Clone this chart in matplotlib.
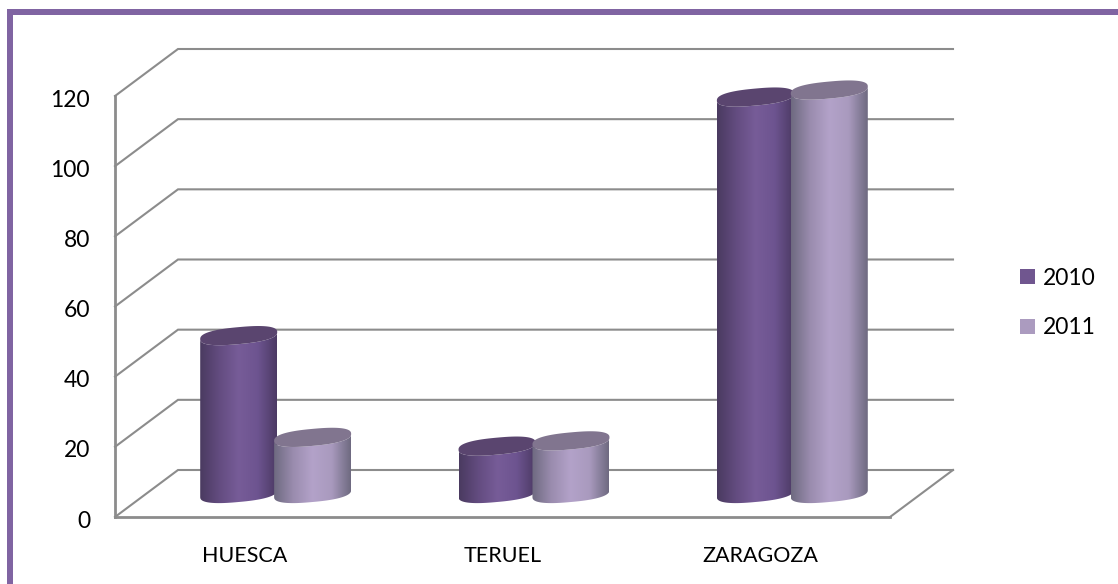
import matplotlib
matplotlib.use("Agg")
import matplotlib.pyplot as plt
import numpy as np
from matplotlib.patches import Patch, Polygon, Rectangle
from matplotlib.colors import LinearSegmentedColormap
from matplotlib.transforms import ScaledTranslation

# values
categories = ["HUESCA", "TERUEL", "ZARAGOZA"]
series_names = ["2010", "2011"]
values_2010 = [45, 13.5, 113]
values_2011 = [16, 15, 115]
y_ticks = [0, 20, 40, 60, 80, 100, 120]

grid_color = "#8c8c8c"
colors_side = [["#4a3a60", "#634c80", "#775c98", "#6d5490", "#4c3a64"],
               ["#6e6a80", "#9a8cae", "#b3a2c9", "#a99abe", "#6e6a80"]]
colors_top = ["#5a456f", "#81758f"]
colors_legend = ["#70568f", "#ab9bbf"]

W, H = 1118, 584
plt.rcParams["font.family"] = ["Lato", "DejaVu Sans"]
fig = plt.figure(figsize=(W / 100, H / 100), dpi=100)

# front plane of the 3d box, in pixels
left, right, bottom, top = 115, 890, 517, 96
ax = fig.add_axes([left / W, 1 - bottom / H, (right - left) / W, (bottom - top) / H])
ax.set_xlim(0, 3)
ax.set_ylim(0, 120)
ax.patch.set_visible(False)

# depth of the box in data units (63 px right, 47 px up)
depth_x = 63 / ((right - left) / 3)
depth_y = 47 / ((bottom - top) / 120)

for s in ["top", "right"]:
    ax.spines[s].set_visible(False)
for s in ["left", "bottom"]:
    ax.spines[s].set_color(grid_color)
    ax.spines[s].set_linewidth(2)

ax.set_yticks(y_ticks)
ax.set_xticks([0.5, 1.5, 2.5])
ax.set_xticklabels(categories)
ax.tick_params(axis="y", length=0, pad=18, labelsize=16.5, labelcolor="black")
ax.tick_params(axis="x", length=0, pad=21, labelsize=15.5, labelcolor="black")
# y labels sit a little lower than the tick height
shift = ScaledTranslation(0, -1.5 / 72, fig.dpi_scale_trans)
for lab in ax.get_yticklabels():
    lab.set_transform(lab.get_transform() + shift)

# back wall, side wall and floor
for v in y_ticks:
    ax.plot([0, depth_x, 3 + depth_x], [v, v + depth_y, v + depth_y],
            color=grid_color, lw=1.5, clip_on=False, zorder=1, solid_joinstyle="miter")
ax.plot([3, 3 + depth_x], [0, depth_y], color=grid_color, lw=1.5, clip_on=False, zorder=1)

# cylinders
half_w = 38.5 / ((right - left) / 3)   # radius in x
rad_y = 8.5 / ((bottom - top) / 120)   # radius in y
tilt = 3.5 / ((bottom - top) / 120)    # the ellipse leans up to the right
t = np.linspace(0, 2 * np.pi, 181)
gradient = np.linspace(0, 1, 256).reshape(1, -1)
# slightly squarer than an ellipse, the ends of the caps are blunt in the original
cos_t = np.sign(np.cos(t)) * np.abs(np.cos(t)) ** 0.8
sin_t = np.sign(np.sin(t)) * np.abs(np.sin(t)) ** 0.8

for s, vals in enumerate([values_2010, values_2011]):
    cmap = LinearSegmentedColormap.from_list("c%d" % s, colors_side[s])
    for i, v in enumerate(vals):
        cx = i + 0.5 + (s - 0.5) * 2 * half_w * 0.96 + depth_x / 2
        y0 = depth_y / 2
        ex = cx + half_w * cos_t
        ey = rad_y * sin_t + tilt * cos_t
        low = t >= np.pi
        order = np.argsort(ex[low])
        # side outline: bottom half of the base, then top half at the value height
        sx = np.r_[ex[low][order], ex[low][order][::-1]]
        sy = np.r_[y0 + ey[low][order], v + y0 + ey[low][order][::-1]]
        side = Polygon(np.c_[sx, sy], closed=True, fc="none", ec="none", zorder=3 + s,
                       clip_on=False)
        ax.add_patch(side)
        im = ax.imshow(gradient, cmap=cmap, aspect="auto", zorder=3 + s,
                       extent=[cx - half_w, cx + half_w, y0 - 20, v + y0 + 20])
        im.set_clip_box(fig.bbox)
        im.set_clip_path(side)
        ax.add_patch(Polygon(np.c_[ex, v + y0 + ey], closed=True, fc=colors_top[s],
                             ec="none", zorder=3 + s, clip_on=False))
ax.set_xlim(0, 3)
ax.set_ylim(0, 120)

handles = [Patch(fc=colors_legend[0], ec="none"), Patch(fc=colors_legend[1], ec="none")]
leg = ax.legend(handles, series_names, loc="center left", bbox_to_anchor=(1020 / W, 1 - 303 / H),
                bbox_transform=fig.transFigure, frameon=False, fontsize=16.5, handlelength=0.65,
                handleheight=0.65, handletextpad=0.35, labelspacing=1.25, borderpad=0, borderaxespad=0)

# purple frame of the chart
fig.add_artist(Rectangle((7 / W, -0.1), 6 / W, 1.1 - 9 / H, fc="#8064a2", ec="none",
                         transform=fig.transFigure))
fig.add_artist(Rectangle((7 / W, 1 - 15 / H), 1.2, 6 / H, fc="#8064a2", ec="none",
                         transform=fig.transFigure))

fig.savefig("out.png", dpi=100)
